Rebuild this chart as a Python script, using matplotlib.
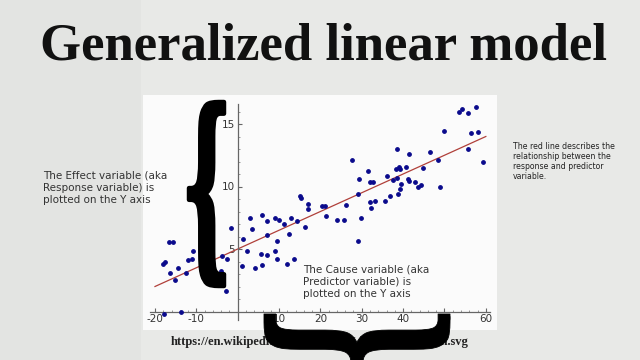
import matplotlib
matplotlib.use("Agg")
import matplotlib.pyplot as plt
from matplotlib.patches import Rectangle, PathPatch
from matplotlib.textpath import TextPath
from matplotlib.font_manager import FontProperties
from matplotlib.transforms import Affine2D

plt.rcParams["axes.unicode_minus"] = False

# scatter data
x_vals = [-18.1, -17.7, -16.5, -15.6, -16.4, -15.2, -14.5, -13.6, -17.8, -12.5,
          -11.9, -11.1, -10.7, -6.3, -4.1, -3.9, -2.9, -2.5, -1.5, 1.0,
          1.4, 2.2, 3.0, 3.5, 4.2, 5.8, 5.6, 5.8, 7.0, 7.0,
          7.0, 8.9, 9.0, 9.4, 9.6, 10.1, 11.3, 11.9, 12.3, 12.9,
          13.7, 14.4, 15.1, 15.2, 16.3, 16.9, 17.1, 20.3, 21.1, 21.3,
          23.9, 25.6, 26.1, 27.6, 29.0, 29.0, 29.4, 29.8, 31.5, 31.9,
          32.7, 32.0, 32.2, 33.2, 35.6, 36.0, 36.8, 37.6, 38.3, 38.6,
          38.6, 38.9, 39.2, 38.7, 39.3, 39.5, 40.6, 41.1, 41.3, 41.5,
          42.9, 43.5, 44.4, 44.8, 46.5, 48.5, 48.8, 49.8, 53.5, 54.3,
          55.8, 55.8, 56.4, 57.7, 58.0, 59.3]
y_vals = [3.84, 3.97, 5.57, 5.57, 3.09, 2.56, 3.52, 0.0, -0.2, 3.09,
          4.16, 4.24, 4.83, 4.59, 3.23, 4.45, 1.65, 4.19, 6.72, 3.65,
          5.79, 4.83, 7.49, 6.64, 3.49, 7.71, 4.64, 3.71, 7.25, 6.11,
          4.51, 4.88, 7.49, 5.65, 4.19, 7.33, 7.04, 3.79, 6.19, 7.49,
          4.21, 7.23, 9.23, 9.12, 6.77, 8.24, 8.59, 8.45, 8.45, 7.63,
          7.31, 7.31, 8.56, 12.1, 9.39, 5.63, 10.61, 7.49, 11.25, 10.37,
          10.37, 8.77, 8.32, 8.83, 8.85, 10.83, 9.23, 10.56, 11.41, 13.01,
          10.69, 11.57, 11.39, 9.44, 9.84, 10.19, 11.57, 10.59, 10.43, 12.64,
          10.35, 9.97, 10.13, 11.52, 12.77, 12.16, 9.97, 14.43, 15.97, 16.24,
          15.92, 13.04, 14.27, 16.4, 14.4, 11.95]

# fitted line end points
line_x = [-20, 60]
line_y = [2.0, 14.0]

x_ticks = [-20, -10, 10, 20, 30, 40, 50, 60]
y_ticks = [5, 10, 15]

title = "Generalized linear model"
effect_text = "The Effect variable (aka\nResponse variable) is\nplotted on the Y axis"
cause_text = "The Cause variable (aka\nPredictor variable) is\nplotted on the Y axis"
red_text = "The red line describes the\nrelationship between the\nresponse and predictor\nvariable."
source = "https://en.wikipedia.org/wiki/File:Linear_regression.svg"

W, H = 640, 360


def fx(px):
    return px / W


def fy(py):
    return 1 - py / H


fig = plt.figure(figsize=(6.4, 3.6), dpi=100, facecolor="#e8e9e7")

# slightly darker left panel
fig.patches.append(Rectangle((0, 0), fx(141), 1, transform=fig.transFigure,
                             facecolor="#e3e4e2", edgecolor="none", zorder=-5))

ax = fig.add_axes([fx(143), fy(330), fx(497) - fx(143), fy(95) - fy(330)])
ax.set_facecolor("#fbfbfb")
ax.set_xlim(-22.9, 62.7)
ax.set_ylim(-1.48, 17.32)

ax.plot(line_x, line_y, color="#b0403a", lw=0.9, zorder=2)
ax.scatter(x_vals, y_vals, s=6, color="#0a0a8c", zorder=3, clip_on=False)

for side in ["top", "right"]:
    ax.spines[side].set_visible(False)
ax.spines["left"].set_position(("data", 0))
ax.spines["bottom"].set_position(("data", 0))
ax.spines["left"].set_bounds(-0.7, 16.6)
ax.spines["bottom"].set_bounds(-21.2, 61)
for side in ["left", "bottom"]:
    ax.spines[side].set_color("#666666")
    ax.spines[side].set_linewidth(0.9)

ax.set_xticks(x_ticks)
ax.set_yticks(y_ticks)
ax.set_xticks(range(-20, 62, 2), minor=True)
ax.set_yticks(range(0, 17), minor=True)
ax.tick_params(axis="both", which="major", direction="in", length=3, color="#666666",
               labelsize=7.5, labelcolor="#333333", pad=2)
ax.tick_params(axis="both", which="minor", direction="in", length=1.5, color="#888888")

# texts
fig.text(0.505, fy(47), title, ha="center", va="center", fontsize=38,
         fontweight="bold", family="Liberation Serif", color="#111111")

fig.text(fx(43), fy(171), effect_text, ha="left", va="top", fontsize=7.5,
         family="DejaVu Sans", color="#333333", linespacing=1.25)
fig.text(fx(303), fy(265), cause_text, ha="left", va="top", fontsize=7.5,
         family="DejaVu Sans", color="#333333", linespacing=1.25, zorder=4)
fig.text(fx(513), fy(142), red_text, ha="left", va="top", fontsize=5.6,
         family="DejaVu Sans", color="#222222", linespacing=1.15)

fig.text(fx(320), fy(342), source, ha="center", va="center", fontsize=9,
         fontweight="bold", family="Liberation Serif", color="#222222", zorder=5)


def brace(x0, y0, x1, y1, rotate=False, lw=0.0):
    # big curly brace glyph stretched into a pixel box
    tp = TextPath((0, 0), "{", size=100,
                  prop=FontProperties(family="DejaVu Serif", weight="bold"))
    if rotate:
        tp = tp.transformed(Affine2D().rotate_deg(90))
    ext = tp.get_extents()
    t = (Affine2D().translate(-ext.x0, -ext.y0)
         .scale((x1 - x0) / ext.width / W, (y1 - y0) / ext.height / H)
         .translate(fx(x0), fy(y1)))
    patch = PathPatch(t.transform_path(tp), facecolor="black", edgecolor="black",
                      linewidth=lw, joinstyle="round",
                      transform=fig.transFigure, zorder=6)
    fig.patches.append(patch)


brace(189, 102, 224, 286, lw=3.2)
brace(264, 314, 450, 366, rotate=True, lw=0.6)

fig.savefig("out.png", dpi=100, facecolor=fig.get_facecolor())
